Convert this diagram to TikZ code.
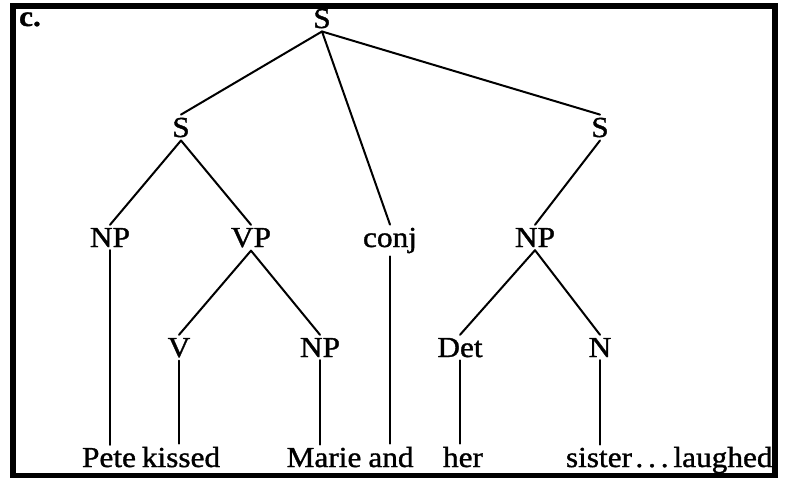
\documentclass[tikz,border=0pt]{standalone}
\usepackage{fontspec}
\setmainfont{Liberation Serif}[FakeStretch=1.08,FakeBold=1.2]
\begin{document}
\begin{tikzpicture}[x=1pt,y=-1pt,
  lbl/.style={anchor=base,inner sep=3pt,font=\fontsize{29}{32}\selectfont},
  branch/.style={line width=2pt,line cap=round}]
\useasboundingbox (0,0) rectangle (786,479);
% frame
\draw[line width=5.5pt] (12.8,5.8) rectangle (775,475.5);
\node[lbl,font=\fontsize{29}{32}\selectfont\bfseries] (tag) at (30,26) {c.};
% category labels
\node[lbl] (S0) at (322,28) {S};
\node[lbl] (S1) at (181,137) {S};
\node[lbl] (S2) at (600,137) {S};
\node[lbl] (NP1) at (110,247) {NP};
\node[lbl] (VP) at (251,247) {VP};
\node[lbl] (conj) at (390,247) {conj};
\node[lbl] (NP3) at (535,247) {NP};
\node[lbl] (V) at (179,357) {V};
\node[lbl] (NP2) at (320,357) {NP};
\node[lbl] (Det) at (460,357) {Det};
\node[lbl] (N) at (600,357) {N};
% words
\node[lbl] (pete) at (109,467) {Pete};
\node[lbl] (kissed) at (181,467) {kissed};
\node[lbl] (marie) at (324,467) {Marie};
\node[lbl] (and) at (391,467) {and};
\node[lbl] (her) at (463,467) {her};
\node[lbl] (sister) at (599,467) {sister};
\node[lbl,anchor=base west,inner sep=0pt] (laughed) at (sister.base east) {.\,.\,.\,laughed};
% branches
\draw[branch] (S0.south) -- (S1.north);
\draw[branch] (S0.south) -- (conj.north);
\draw[branch] (S0.south) -- (S2.north);
\draw[branch] (S1.south) -- (NP1.north);
\draw[branch] (S1.south) -- (VP.north);
\draw[branch] (S2.south) -- (NP3.north);
\draw[branch] (VP.south) -- (V.north);
\draw[branch] (VP.south) -- (NP2.north);
\draw[branch] (NP3.south) -- (Det.north);
\draw[branch] (NP3.south) -- (N.north);
\draw[branch] (NP1.south) -- (NP1.south |- pete.north);
\draw[branch] (V.south) -- (V.south |- kissed.north);
\draw[branch] (NP2.south) -- (NP2.south |- marie.north);
\draw[branch] (conj.south) -- (conj.south |- and.north);
\draw[branch] (Det.south) -- (Det.south |- her.north);
\draw[branch] (N.south) -- (N.south |- sister.north);
\end{tikzpicture}
\end{document}
